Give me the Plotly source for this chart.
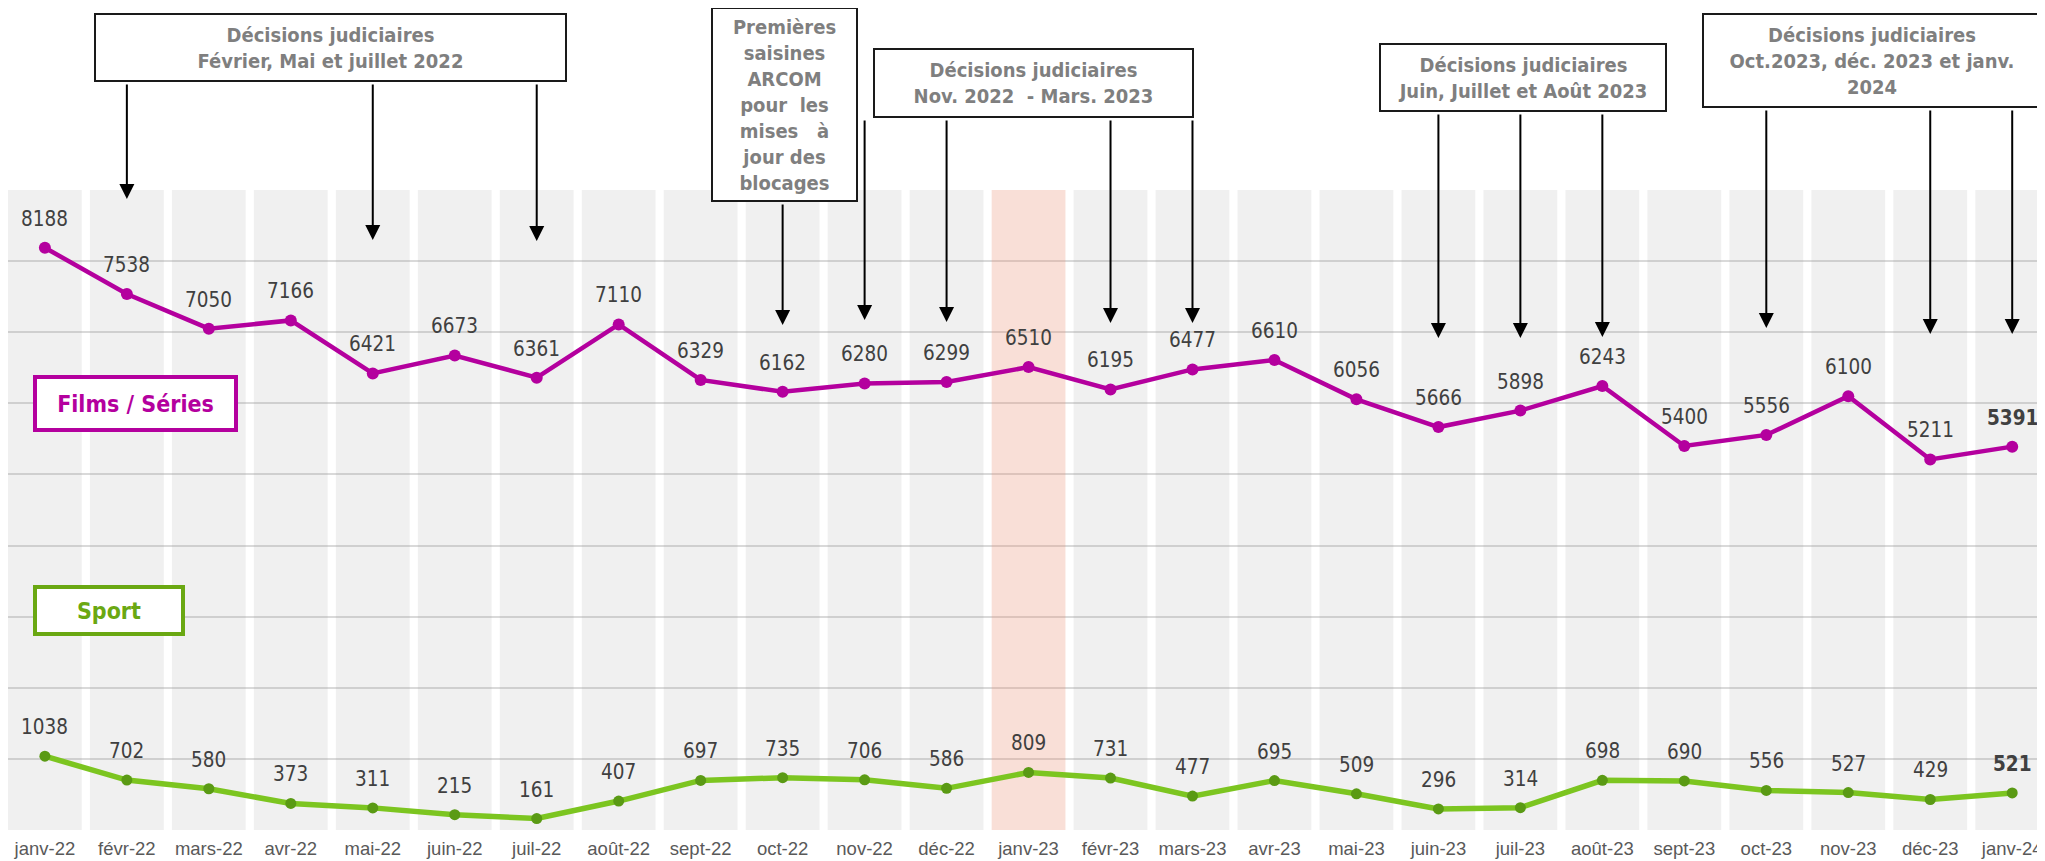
import plotly.graph_objects as go

# ---------------- data ----------------
months = ["janv-22", "févr-22", "mars-22", "avr-22", "mai-22", "juin-22", "juil-22", "août-22",
          "sept-22", "oct-22", "nov-22", "déc-22", "janv-23", "févr-23", "mars-23", "avr-23",
          "mai-23", "juin-23", "juil-23", "août-23", "sept-23", "oct-23", "nov-23", "déc-23", "janv-24"]
films = [8188, 7538, 7050, 7166, 6421, 6673, 6361, 7110, 6329, 6162, 6280, 6299, 6510, 6195,
         6477, 6610, 6056, 5666, 5898, 6243, 5400, 5556, 6100, 5211, 5391]
sport = [1038, 702, 580, 373, 311, 215, 161, 407, 697, 735, 706, 586, 809, 731, 477, 695, 509,
         296, 314, 698, 690, 556, 527, 429, 521]
highlight_month = "janv-23"
Y_MAX = 9000

# event boxes: text, box px on page (left, top, right, bottom), months pointed, arrow tip px
events = [
    ("Décisions judiciaires<br>Février, Mai et juillet 2022", (94, 13, 567, 82),
     ["févr-22", "mai-22", "juil-22"], [199, 240, 241]),
    ("Premières<br>saisines<br>ARCOM<br>pour\u00a0\u00a0les<br>mises\u00a0\u00a0\u00a0à<br>jour des<br>blocages",
     (711, 7, 858, 202), ["oct-22"], [325]),
    ("Décisions judiciaires<br>Nov. 2022\u00a0 - Mars. 2023", (873, 48, 1194, 118),
     ["nov-22", "déc-22", "févr-23", "mars-23"], [320, 322, 323, 323]),
    ("Décisions judiciaires<br>Juin, Juillet et Août 2023", (1379, 43, 1667, 112),
     ["juin-23", "juil-23", "août-23"], [338, 338, 337]),
    ("Décisions judiciaires<br>Oct.2023, déc. 2023 et janv.<br>2024", (1702, 13, 2042, 108),
     ["oct-23", "déc-23", "janv-24"], [328, 334, 334]),
]

# ---------------- layout geometry (page pixels; page body has an 8px margin) ----------------
PAGE_W, PAGE_H = 2045, 861
BODY = 8
W, H = PAGE_W - BODY, PAGE_H - BODY
PLOT_LEFT, PLOT_TOP, PLOT_BOTTOM = 8, 190, 830   # page coordinates
ML, MR = PLOT_LEFT - BODY, 0
MT = PLOT_TOP - BODY
MB = H - (PLOT_BOTTOM - BODY)
PW, PH = W - ML - MR, PLOT_BOTTOM - PLOT_TOP

def px_to_y(py):
    return (PLOT_BOTTOM - py) / PH * Y_MAX

def px_to_paper_x(px):
    return (px - PLOT_LEFT) / PW

def px_to_paper_y(py):
    return (PLOT_BOTTOM - py) / PH

MAGENTA = "#b4009e"
GREEN_LINE = "#7cc520"
GREEN_MARK = "#5a9a14"
LABEL_FONT = "DejaVu Sans Condensed"

fig = go.Figure()

# background columns
col_colors = ["rgba(230,130,100,0.26)" if m == highlight_month else "rgba(150,150,150,0.14)"
              for m in months]
fig.add_trace(go.Bar(x=months, y=[Y_MAX] * len(months), marker=dict(color=col_colors, line=dict(width=0)),
                     hoverinfo="skip", showlegend=False))

fig.add_trace(go.Scatter(x=months, y=films, mode="lines+markers",
                         line=dict(color=MAGENTA, width=4.5),
                         marker=dict(color=MAGENTA, size=12), showlegend=False))
fig.add_trace(go.Scatter(x=months, y=sport, mode="lines+markers",
                         line=dict(color=GREEN_LINE, width=5.5),
                         marker=dict(color=GREEN_MARK, size=11), showlegend=False))

annotations = []
# data labels
for series in (films, sport):
    for i, (m, v) in enumerate(zip(months, series)):
        last = i == len(months) - 1
        annotations.append(dict(x=m, y=v, xref="x", yref="y", text=str(v), showarrow=False,
                                yshift=29, font=dict(family=LABEL_FONT, size=20.5, color="#404040",
                                                      weight="bold" if last else "normal")))

# event boxes and arrows
for text, (l, t, r, b), ms, tips in events:
    bw = 2
    annotations.append(dict(xref="paper", yref="paper", x=px_to_paper_x((l + r) / 2),
                            y=px_to_paper_y((t + b) / 2), xanchor="center", yanchor="middle",
                            text=text, showarrow=False, width=r - l - 2 * bw, height=b - t - 2 * bw,
                            bordercolor="#1a1a1a", borderwidth=bw, borderpad=0, bgcolor="white",
                            font=dict(family=LABEL_FONT, size=20, color="#7f7f7f", weight="bold")))
    for m, tip in zip(ms, tips):
        annotations.append(dict(x=m, y=px_to_y(tip), xref="x", yref="y", text="", showarrow=True,
                                ax=0, ay=-(tip - b - 1), arrowhead=2, arrowsize=1.5, arrowwidth=2,
                                arrowcolor="#000000", standoff=0))

# series name boxes
for text, (l, t, r, b), col in [("Films / Séries", (33, 375, 238, 432), MAGENTA),
                                ("Sport", (33, 585, 185, 636), "#6aa812")]:
    bw = 4
    annotations.append(dict(xref="paper", yref="paper", x=px_to_paper_x((l + r) / 2),
                            y=px_to_paper_y((t + b) / 2), xanchor="center", yanchor="middle",
                            text=text, showarrow=False, width=r - l - 2 * bw, height=b - t - 2 * bw,
                            bordercolor=col, borderwidth=bw, borderpad=0, bgcolor="white",
                            font=dict(family=LABEL_FONT, size=23, color=col, weight="bold")))

fig.update_layout(
    width=W, height=H, margin=dict(l=ML, r=MR, t=MT, b=MB),
    paper_bgcolor="white", plot_bgcolor="white", bargap=0.1,
    annotations=annotations, showlegend=False,
    xaxis=dict(type="category", range=[-0.45, 24.40], showgrid=False, showline=False, ticks="",
               tickfont=dict(family="Liberation Sans", size=18.5, color="#595959"),
               ticklabelstandoff=5, fixedrange=True),
    yaxis=dict(range=[0, Y_MAX], dtick=1000, showgrid=True, gridcolor="#d9d9d9", gridwidth=2,
               zeroline=False, showline=False, showticklabels=False, fixedrange=True),
)

fig.write_html("out.html")
